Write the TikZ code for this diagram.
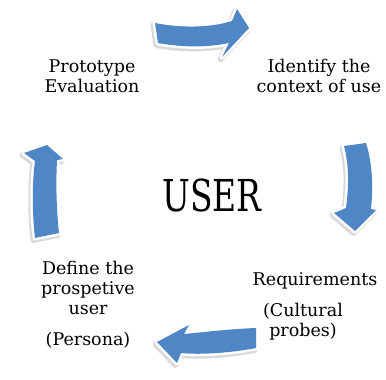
\documentclass[tikz,border=0pt]{standalone}
\usepackage{fontspec}
\setmainfont{DejaVu Serif}
\begin{document}
\begin{tikzpicture}[x=1pt,y=-1pt,
  lbl/.style={font=\fontsize{17.5}{20}\selectfont, align=center, inner sep=0pt},
  arrfill/.style={fill={rgb,255:red,79;green,134;blue,198}},
  arrborder/.style={fill=white, draw=white, line width=5pt, line join=round},
  arrshadow/.style={fill=black!15, draw=black!15, line width=6pt, line join=round}]
\useasboundingbox (0,0) rectangle (386,380);
% arrow paths
\def\toparrow{(155,23) .. controls (180,28) and (210,28) .. (232,21) -- (237,9) -- (249,28) -- (222,57) -- (229,43) .. controls (205,48) and (180,47) .. (158,43) -- cycle}
\def\rightarrow{(344,146) -- (366,143) .. controls (373,165) and (373,190) .. (371,209) -- (376,210) -- (355,231) -- (334,213) -- (346,208) .. controls (349,185) and (349,165) .. (344,146) -- cycle}
\def\botarrow{(256,328) -- (256,348) .. controls (230,353) and (200,355) .. (181,353) -- (177,363) -- (157,342) -- (189,325) -- (184,334) .. controls (205,332) and (230,329) .. (256,328) -- cycle}
\def\leftarrow{(35,238) -- (59,233) .. controls (56,205) and (56,180) .. (57,160) -- (63,159) -- (47,145) -- (24,153) -- (35,161) .. controls (32,185) and (32,210) .. (35,238) -- cycle}
\foreach \p in {\toparrow,\rightarrow,\botarrow,\leftarrow}{
  \path[arrshadow, shift={(-1.5,2)}] \p;
}
\foreach \p in {\toparrow,\rightarrow,\botarrow,\leftarrow}{
  \path[arrborder] \p;
}
\path[arrfill] \toparrow;
\path[arrfill] \rightarrow;
\path[arrfill] \botarrow;
\path[arrfill] \leftarrow;
% labels
\node[lbl] (proto) at (92,76) {Prototype\\Evaluation};
\node[lbl] (ident) at (319,76) {Identify the\\context of use};
\node[lbl, font=\fontsize{44}{44}\selectfont, xscale=0.75] (user) at (212,195) {USER};
\node[lbl] (req) at (315,281) {Requirements};
\node[lbl] (cult) at (303,322) {(Cultural\\probes)};
\node[lbl] (def) at (88,288) {Define the\\prospetive\\user};
\node[lbl] (pers) at (88,340) {(Persona)};
\end{tikzpicture}
\end{document}
